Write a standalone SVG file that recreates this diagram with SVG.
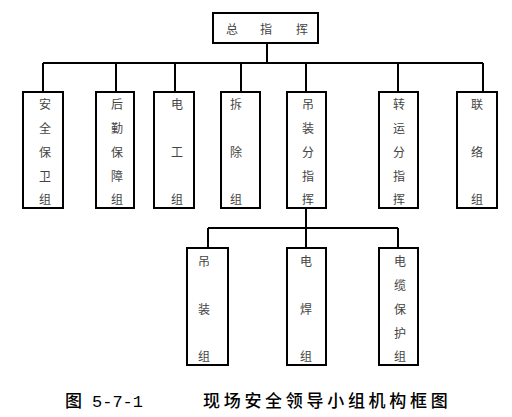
<svg xmlns="http://www.w3.org/2000/svg" width="512" height="417" viewBox="0 0 512 417">
<style>
.box{fill:#fff;stroke:#000;stroke-width:2}
.ln{fill:none;stroke:#000;stroke-width:2}
.t{font-family:"Noto Sans CJK SC","Noto Sans",sans-serif;font-size:12px;fill:#444;text-anchor:middle;dominant-baseline:central}
.cap{font-family:"Noto Sans CJK SC","Noto Sans",sans-serif;font-size:17px;fill:#000;font-weight:500}
.num{font-family:"Liberation Mono",monospace;font-size:17px;fill:#000}
</style>
<rect width="512" height="417" fill="#fff"/>
<g id="connectors">
<path class="ln" d="M267 43V63M43 63H483M43 63V92M116 63V92M175 63V92M241 63V92M306 63V92M398 63V92M483 63V92"/>
<path class="ln" d="M306 208V228M208 228H398M208 228V248M306 228V248M398 228V248"/>
</g>
<g id="n0"><rect class="box" x="213" y="13" width="105" height="30"/>
<text class="t" x="232" y="28">总</text><text class="t" x="266" y="28">指</text><text class="t" x="302" y="28">挥</text></g>
<g id="n1"><rect class="box" x="23" y="92" width="40" height="116"/>
<text class="t" x="45" y="103">安</text><text class="t" x="45" y="127">全</text><text class="t" x="45" y="151">保</text><text class="t" x="45" y="175">卫</text><text class="t" x="45" y="198">组</text></g>
<g id="n2"><rect class="box" x="96" y="92" width="38" height="116"/>
<text class="t" x="117" y="103">后</text><text class="t" x="117" y="127">勤</text><text class="t" x="117" y="151">保</text><text class="t" x="117" y="175">障</text><text class="t" x="117" y="198">组</text></g>
<g id="n3"><rect class="box" x="154" y="92" width="40" height="116"/>
<text class="t" x="177" y="103">电</text><text class="t" x="177" y="151">工</text><text class="t" x="177" y="198">组</text></g>
<g id="n4"><rect class="box" x="221" y="92" width="39" height="116"/>
<text class="t" x="236" y="103">拆</text><text class="t" x="236" y="151">除</text><text class="t" x="236" y="198">组</text></g>
<g id="n5"><rect class="box" x="287" y="92" width="39" height="116"/>
<text class="t" x="308" y="103">吊</text><text class="t" x="308" y="127">装</text><text class="t" x="308" y="151">分</text><text class="t" x="308" y="175">指</text><text class="t" x="308" y="198">挥</text></g>
<g id="n6"><rect class="box" x="379" y="92" width="39" height="116"/>
<text class="t" x="399" y="103">转</text><text class="t" x="399" y="127">运</text><text class="t" x="399" y="151">分</text><text class="t" x="399" y="175">指</text><text class="t" x="399" y="198">挥</text></g>
<g id="n7"><rect class="box" x="457" y="92" width="40" height="116"/>
<text class="t" x="477" y="103">联</text><text class="t" x="477" y="151">络</text><text class="t" x="477" y="198">组</text></g>
<g id="n8"><rect class="box" x="187" y="248" width="41" height="117"/>
<text class="t" x="204" y="260">吊</text><text class="t" x="204" y="308">装</text><text class="t" x="204" y="355">组</text></g>
<g id="n9"><rect class="box" x="287" y="248" width="39" height="117"/>
<text class="t" x="306" y="260">电</text><text class="t" x="306" y="308">焊</text><text class="t" x="306" y="355">组</text></g>
<g id="n10"><rect class="box" x="379" y="248" width="39" height="117"/>
<text class="t" x="400" y="260">电</text><text class="t" x="400" y="284">缆</text><text class="t" x="400" y="308">保</text><text class="t" x="400" y="332">护</text><text class="t" x="400" y="355">组</text></g>
<text class="cap" x="65" y="407">图</text>
<text class="num" x="92" y="407">5-7-1</text>
<text class="cap" x="203" y="407" letter-spacing="3.7">现场安全领导小组机构框图</text>
</svg>
